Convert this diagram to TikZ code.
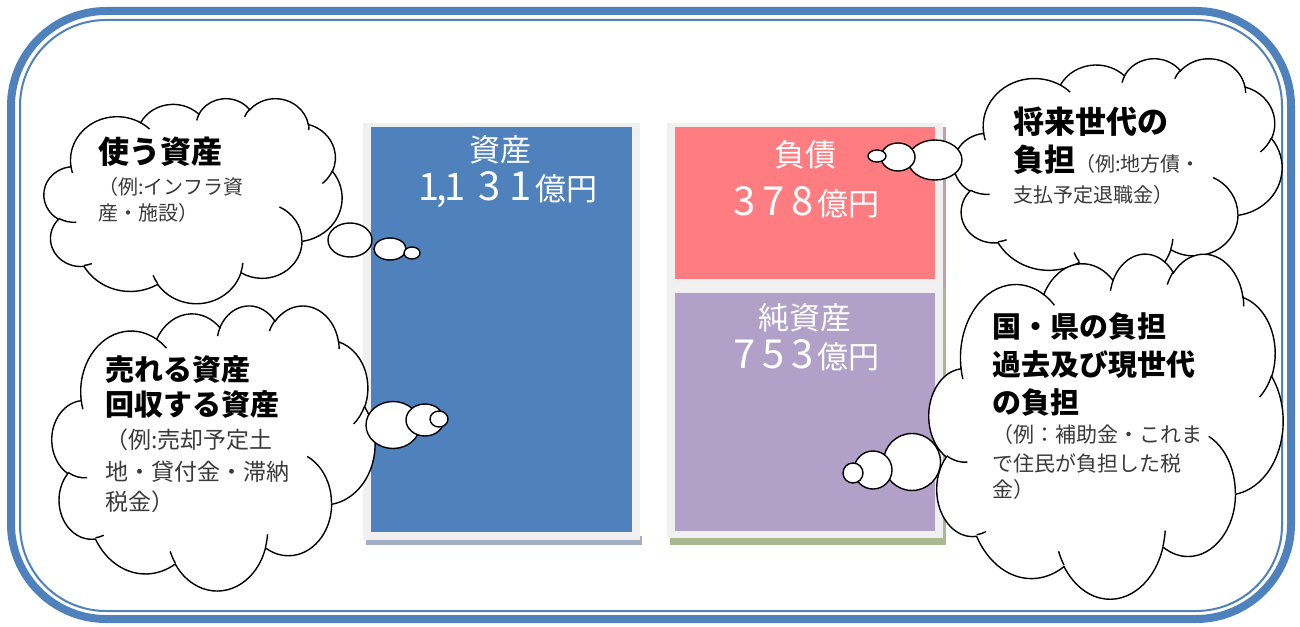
\documentclass[tikz,border=0pt]{standalone}
\usepackage{fontspec}
\setmainfont{Noto Sans CJK JP}
\usetikzlibrary{shapes.geometric}
\definecolor{frameblue}{HTML}{4F81BD}
\definecolor{assetblue}{HTML}{4F81BD}
\definecolor{debtred}{HTML}{FF7C80}
\definecolor{netpurple}{HTML}{B1A0C7}
\definecolor{barframe}{HTML}{F0F0F0}
\definecolor{shadowL}{HTML}{A3AFC4}
\definecolor{shadowR}{HTML}{A9B88F}
\definecolor{shadowP}{HTML}{C2A0A0}
\definecolor{smallgray}{HTML}{3A3A3A}
% Word-style cloud: arc preparation (OOXML visual angles -> parametric)
\newcommand\cldprep[5]{%
  \pgfmathsetmacro\cldtA{atan2((#2)*sin(#4),(#3)*cos(#4))}%
  \pgfmathsetmacro\cldtB{atan2((#2)*sin((#4)+(#5)),(#3)*cos((#4)+(#5)))}%
  \pgfmathsetmacro\cldd{mod(\cldtB-\cldtA+720,360)}%
  \expandafter\xdef\csname cldS#1\endcsname{\cldtA}%
  \expandafter\xdef\csname cldD#1\endcsname{\cldd}%
}
\newcommand\fwd[2][29pt]{\makebox[#1]{\fontsize{40}{40}\selectfont #2}}
\tikzset{
  cloudline/.style={draw=black, line width=1.4pt},
  bubble/.style={ellipse, draw=black, fill=white, line width=1.4pt, inner sep=0pt},
  bigtxt/.style={anchor=west, inner sep=0pt, text=black},
  smalltxt/.style={anchor=west, inner sep=0pt, text=smallgray},
  bartxt/.style={inner sep=0pt, text=white},
  barpart/.style={rectangle, inner sep=0pt, anchor=north west}
}
\begin{document}
\cldprep{a}{6753}{9190}{-190.48748}{123.78053}
\cldprep{b}{5333}{7267}{-144.10238}{89.94523}
\cldprep{c}{4365}{5945}{-145.80792}{99.72302}
\cldprep{d}{4857}{6595}{-130.98607}{117.24173}
\cldprep{e}{5333}{7273}{-78.70888}{109.02692}
\cldprep{f}{6775}{9220}{-46.26725}{130.269}
\cldprep{g}{5785}{7867}{0.62502}{114.03333}
\cldprep{h}{6752}{9215}{22.4516}{115.17255}
\cldprep{i}{7720}{10543}{66.24263}{75.71102}
\cldprep{j}{4360}{5918}{-274.94208}{146.73557}
\cldprep{k}{4345}{5945}{-246.8285}{152.51885}
\cldprep{ha}{4345}{5945}{86.742}{26.4295}
\cldprep{hb}{4360}{5918}{73.61047}{11.44747}
\cldprep{hc}{6752}{9215}{137.62415}{14.0811}
\cldprep{hd}{6752}{9215}{6.45327}{15.99835}
\cldprep{he}{5785}{7867}{-70.29235}{70.91737}
\cldprep{hf}{5333}{7273}{30.31803}{27.7515}
\cldprep{hg}{4857}{6595}{-13.74433}{14.8589}
\cldprep{hh}{4857}{6595}{-149.18145}{18.19537}
\cldprep{hi}{4365}{5945}{-163.49427}{17.68635}
\cldprep{hj}{6753}{9190}{-66.70695}{12.31935}
\cldprep{hk}{6753}{9190}{157.65435}{11.85817}
\newcommand\cldoutline{(9.0278,33.2639)
  arc[x radius=15.6319, y radius=21.2731, start angle=\cldSa, delta angle=\cldDa]
  arc[x radius=12.3449, y radius=16.8218, start angle=\cldSb, delta angle=\cldDb]
  arc[x radius=10.1042, y radius=13.7616, start angle=\cldSc, delta angle=\cldDc]
  arc[x radius=11.2431, y radius=15.2662, start angle=\cldSd, delta angle=\cldDd]
  arc[x radius=12.3449, y radius=16.8356, start angle=\cldSe, delta angle=\cldDe]
  arc[x radius=15.6829, y radius=21.3426, start angle=\cldSf, delta angle=\cldDf]
  arc[x radius=13.3912, y radius=18.2106, start angle=\cldSg, delta angle=\cldDg]
  arc[x radius=15.6296, y radius=21.3310, start angle=\cldSh, delta angle=\cldDh]
  arc[x radius=17.8704, y radius=24.4051, start angle=\cldSi, delta angle=\cldDi]
  arc[x radius=10.0926, y radius=13.6991, start angle=\cldSj, delta angle=\cldDj]
  arc[x radius=10.0579, y radius=13.7616, start angle=\cldSk, delta angle=\cldDk]
  -- cycle}
\newcommand\cldhooks{
  (10.8634,60.5949) arc[x radius=10.0579, y radius=13.7616, start angle=\cldSha, delta angle=\cldDha]
  (16.0370,80.7847) arc[x radius=10.0926, y radius=13.6991, start angle=\cldShb, delta angle=\cldDhb]
  (38.1435,90.4861) arc[x radius=15.6296, y radius=21.3310, start angle=\cldShc, delta angle=\cldDhc]
  (66.7292,80.4421) arc[x radius=15.6296, y radius=21.3310, start angle=\cldShd, delta angle=\cldDhd]
  (79.0023,53.1343) arc[x radius=13.3912, y radius=18.2106, start angle=\cldShe, delta angle=\cldDhe]
  (96.7546,35.5417) arc[x radius=12.3449, y radius=16.8356, start angle=\cldShf, delta angle=\cldDhf]
  (88.7130,12.5602) arc[x radius=11.2431, y radius=15.2662, start angle=\cldShg, delta angle=\cldDhg]
  (67.3102,9.1481) arc[x radius=11.2431, y radius=15.2662, start angle=\cldShh, delta angle=\cldDhh]
  (51.2523,10.9259) arc[x radius=10.1042, y radius=13.7616, start angle=\cldShi, delta angle=\cldDhi]
  (32.4074,12.0185) arc[x radius=15.6319, y radius=21.2731, start angle=\cldShj, delta angle=\cldDhj]
  (9.5532,36.5486) arc[x radius=15.6319, y radius=21.2731, start angle=\cldShk, delta angle=\cldDhk]}
\newcommand\wordcloud[4]{% x0 y0 W H
  \begin{scope}[shift={(#1,#2)}, xscale=#3/100, yscale=#4/100]
    \filldraw[cloudline, fill=white] \cldoutline;
    \draw[cloudline] \cldhooks;
  \end{scope}}
\begin{tikzpicture}[x=1pt,y=-1pt]
\useasboundingbox (0,0) rectangle (1300,626);
\fill[white] (0,0) rectangle (1300,626);
% frame
\draw[frameblue, line width=8pt, rounded corners=95pt] (11,11) rectangle (1291,619);
\draw[frameblue, line width=2pt, rounded corners=86pt] (20,20) rectangle (1282,611);
% left bar
\node[barpart, fill=shadowL, minimum width=276pt, minimum height=9pt] (lsh) at (366,536) {};
\node[barpart, fill=barframe, minimum width=277pt, minimum height=417pt] (lframe) at (363,123) {};
\node[barpart, fill=assetblue, minimum width=261pt, minimum height=405pt] (assets) at (371,127) {};
% right bar
\node[barpart, fill=shadowR, minimum width=276pt, minimum height=9pt] (rsh) at (670,536) {};
\node[barpart, fill=shadowP, minimum width=3pt, minimum height=160pt] (rshp) at (943,127) {};
\node[barpart, fill=shadowR, minimum width=3pt, minimum height=253pt] (rshg) at (943,287) {};
\node[barpart, fill=barframe, minimum width=276pt, minimum height=415pt] (rframe) at (667,123) {};
\node[barpart, fill=debtred, minimum width=260pt, minimum height=152pt] (debt) at (675,127) {};
\node[barpart, fill=netpurple, minimum width=260pt, minimum height=238pt] (net) at (675,293) {};
% bar texts
\node[bartxt, font=\fontsize{31}{31}\selectfont] (t1) at (500,150) {資産};
\node[bartxt, anchor=west, font=\fontsize{31}{31}\selectfont] (t2) at (418,190) {{\fontsize{38}{38}\selectfont 1\kern-2.5pt,\kern-2.5pt1}\kern8pt\fwd[31pt]{3}\fwd[31pt]{1}億円};
\node[bartxt, font=\fontsize{31}{31}\selectfont] (t3) at (805,155) {負債};
\node[bartxt, font=\fontsize{31}{31}\selectfont] (t4) at (805,202) {\fwd{3}\fwd{7}\fwd{8}億円};
\node[bartxt, font=\fontsize{31}{31}\selectfont] (t5) at (805,318) {純資産};
\node[bartxt, font=\fontsize{31}{31}\selectfont] (t6) at (805,355) {\fwd{7}\fwd{5}\fwd{3}億円};
% clouds
\wordcloud{44}{98}{298}{205}
\wordcloud{52}{305}{323}{285}
\wordcloud{954}{58}{328}{225}
\wordcloud{929}{253}{354}{345}
% bubbles
\node[bubble, minimum width=44pt, minimum height=34pt] (b11) at (350,240) {};
\node[bubble, minimum width=32pt, minimum height=22pt] (b12) at (390,249) {};
\node[bubble, minimum width=16pt, minimum height=12pt] (b13) at (412,253) {};
\node[bubble, minimum width=54pt, minimum height=47pt] (b21) at (393,425) {};
\node[bubble, minimum width=38pt, minimum height=32pt] (b22) at (425,420) {};
\node[bubble, minimum width=18pt, minimum height=16pt] (b23) at (439,419) {};
\node[bubble, minimum width=54pt, minimum height=40pt] (b31) at (935,160) {};
\node[bubble, minimum width=34pt, minimum height=28pt] (b32) at (898,157) {};
\node[bubble, minimum width=18pt, minimum height=12pt] (b33) at (877,156) {};
\node[bubble, minimum width=57pt, minimum height=57pt] (b41) at (912,462) {};
\node[bubble, minimum width=38pt, minimum height=38pt] (b42) at (873,470) {};
\node[bubble, minimum width=20pt, minimum height=20pt] (b43) at (853,473) {};
% cloud 1 text
\node[bigtxt, font=\fontsize{31}{31}\selectfont\bfseries] (c1a) at (98,152) {使う資産};
\node[smalltxt, font=\fontsize{20}{20}\selectfont] (c1b) at (98,187) {（例:インフラ資};
\node[smalltxt, font=\fontsize{20}{20}\selectfont] (c1c) at (98,213) {産・施設）};
% cloud 2 text
\node[bigtxt, font=\fontsize{29}{29}\selectfont\bfseries] (c2a) at (105,370) {売れる資産};
\node[bigtxt, font=\fontsize{29}{29}\selectfont\bfseries] (c2b) at (105,405) {回収する資産};
\node[smalltxt, font=\fontsize{23}{23}\selectfont] (c2c) at (105,440) {（例:売却予定土};
\node[smalltxt, font=\fontsize{23}{23}\selectfont] (c2d) at (105,472) {地・貸付金・滞納};
\node[smalltxt, font=\fontsize{23}{23}\selectfont] (c2e) at (105,502) {税金）};
% cloud 3 text
\node[bigtxt, font=\fontsize{31}{31}\selectfont\bfseries] (c3a) at (1013,122) {将来世代の};
\node[bigtxt, anchor=base west] (c3b) at (1013,171) {{\fontsize{31}{31}\selectfont\bfseries 負担}{\fontsize{20}{20}\selectfont\color{smallgray}（例:地方債・}};
\node[smalltxt, font=\fontsize{20}{20}\selectfont] (c3c) at (1013,195) {支払予定退職金）};
% cloud 4 text
\node[bigtxt, font=\fontsize{29}{29}\selectfont\bfseries] (c4a) at (992,327) {国・県の負担};
\node[bigtxt, font=\fontsize{29}{29}\selectfont\bfseries] (c4b) at (992,365) {過去及び現世代};
\node[bigtxt, font=\fontsize{29}{29}\selectfont\bfseries] (c4c) at (992,403) {の負担};
\node[smalltxt, font=\fontsize{21}{21}\selectfont] (c4d) at (992,435) {（例：補助金・これま};
\node[smalltxt, font=\fontsize{21}{21}\selectfont] (c4e) at (992,463) {で住民が負担した税};
\node[smalltxt, font=\fontsize{21}{21}\selectfont] (c4f) at (992,490) {金）};
\end{tikzpicture}
\end{document}
